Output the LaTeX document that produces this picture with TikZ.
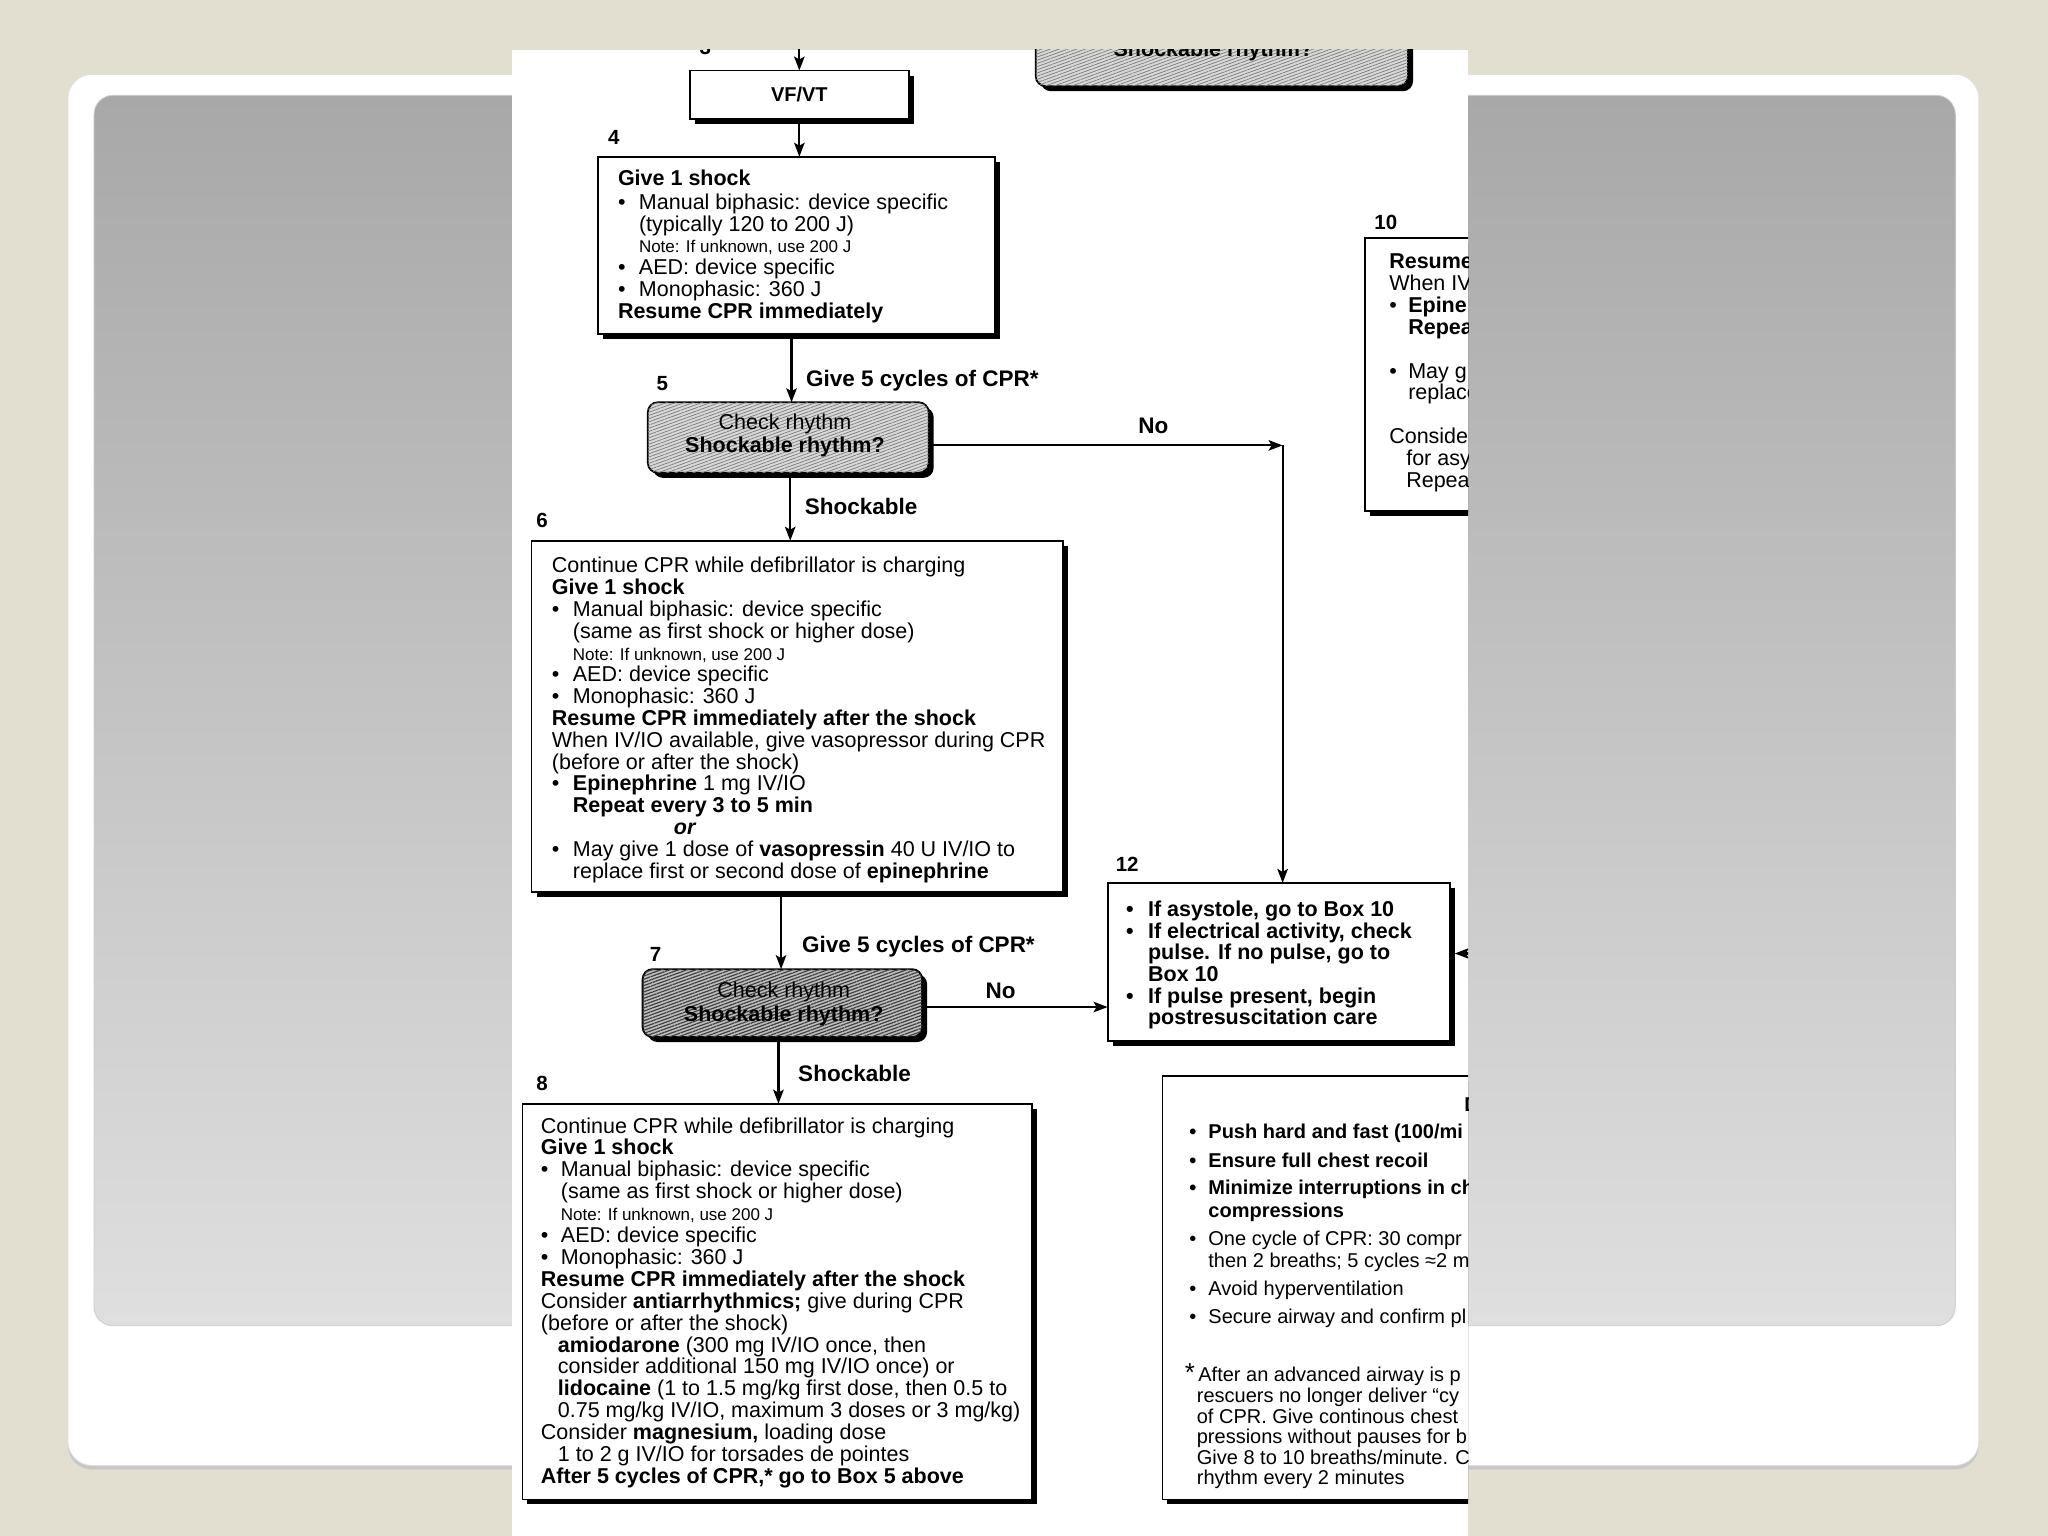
\documentclass[tikz,border=0pt]{standalone}
\usepackage{fontspec}
\setmainfont{Liberation Sans}
\usetikzlibrary{fit,shadows,arrows.meta,patterns.meta}
\definecolor{slidebg}{HTML}{E2DFD1}
\definecolor{graytop}{HTML}{A8A8A8}
\definecolor{graybot}{HTML}{DFDFDF}
\newcommand{\mybul}[1]{\makebox[#1][l]{•}}
\newcommand{\myind}[1]{\hspace*{#1}}
\newcommand{\notefont}{\fontsize{17}{21.8}\selectfont}
\tikzset{
  flowbox/.style={draw=black, line width=1.8pt, fill=white, inner sep=0pt, outer sep=0pt,
    drop shadow={shadow xshift=5pt, shadow yshift=-5pt, fill=black, opacity=1}},
  checkbox/.style={flowbox, rounded corners=10pt, fill=gray!30,
    postaction={pattern={Lines[angle=20,distance=3pt,line width=0.8pt]}, pattern color=black!50}},
  checkdark/.style={flowbox, rounded corners=10pt, fill=gray!50,
    postaction={pattern={Lines[angle=20,distance=3pt,line width=1.2pt]}, pattern color=black!75}},
  conn/.style={line width=2.2pt, -{Stealth[length=14pt,width=10.5pt,inset=3pt]}},
  body/.style={font=\fontsize{21.5}{21.8}\selectfont, align=left, anchor=north west, inner sep=0pt},
  lbl/.style={font=\fontsize{22.5}{24}\selectfont\bfseries, inner sep=0pt, anchor=base west},
  num/.style={font=\fontsize{20.5}{22}\selectfont\bfseries, inner sep=0pt, anchor=base},
  chk/.style={font=\fontsize{21.5}{23.4}\selectfont, align=center, inner sep=0pt, anchor=north},
}
\begin{document}
\begin{tikzpicture}[x=1.30612pt, y=-1.30612pt]
\useasboundingbox (0,0) rectangle (1568,1176);
\fill[slidebg] (0,0) rectangle (1568,1176);
\fill[black!22, rounded corners=24pt] (52,59.5) rectangle (1515,1125);
\filldraw[fill=white, draw=black!12, line width=0.8pt, rounded corners=24pt] (52,57) rectangle (1515,1122);
\shadedraw[top color=graytop, bottom color=graybot, draw=black!20, line width=0.8pt, rounded corners=19pt] (72,73) rectangle (1497,1015);
\fill[white] (392,38) rectangle (1124,1176);
\begin{scope}
\clip (392,38) rectangle (1124,1176);
% box 3 (cut off at top)
\node[checkbox, fit={(793,10)(1078,66)}] (b3) {};
\node[font=\fontsize{21.5}{22}\selectfont\bfseries, inner sep=0pt, anchor=base] (t3) at (929,43.5) {Shockable rhythm?};
\node[num] (n3) at (540,42) {3};
\coordinate (ctop) at (612,20);
% VF/VT
\node[flowbox, fit={(528,54)(696,91)}] (vfvt) {};
\node[font=\fontsize{20}{22}\selectfont\bfseries, inner sep=0pt] (tvf) at (vfvt.center) {VF/VT};
% box 4
\node[num] (n4) at (470,111) {4};
\node[flowbox, fit={(458,120)(762,256)}] (b4) {};
\node[body] (t4) at (473,130) {\textbf{Give 1 shock}\\[2pt]
\mybul{21pt}Manual biphasic: device specific\\
\myind{21pt}(typically 120 to 200 J)\\
\myind{21pt}{\notefont Note: If unknown, use 200 J}\\
\mybul{21pt}AED: device specific\\
\mybul{21pt}Monophasic: 360 J\\
\textbf{Resume CPR immediately}};
% box 5
\node[num] (n5) at (507,299) {5};
\node[checkbox, fit={(496,308)(711,362)}] (b5) {};
\node[chk] (t5) at (601,316.8) {Check rhythm\\\textbf{Shockable rhythm?}};
% box 6
\node[num] (n6) at (415,404) {6};
\node[flowbox, fit={(407,414)(814,683)}] (b6) {};
\node[body] (t6) at (422.4,426.6) {Continue CPR while defibrillator is charging\\
\textbf{Give 1 shock}\\
\mybul{21pt}Manual biphasic: device specific\\
\myind{21pt}(same as first shock or higher dose)\\
\myind{21pt}{\notefont Note: If unknown, use 200 J}\\
\mybul{21pt}AED: device specific\\
\mybul{21pt}Monophasic: 360 J\\
\textbf{Resume CPR immediately after the shock}\\
When IV/IO available, give vasopressor during CPR\\
(before or after the shock)\\
\mybul{21pt}\textbf{Epinephrine} 1 mg IV/IO\\
\myind{21pt}\textbf{Repeat every 3 to 5 min}\\
\myind{122pt}\textbf{\textit{or}}\\
\mybul{21pt}May give 1 dose of \textbf{vasopressin} 40 U IV/IO to\\
\myind{21pt}replace first or second dose of \textbf{epinephrine}};
% box 7
\node[num] (n7) at (502,736) {7};
\node[checkdark, fit={(492,742)(706,794)}] (b7) {};
\node[chk] (t7) at (600,752) {Check rhythm\\\textbf{Shockable rhythm?}};
% box 8
\node[num] (n8) at (415,835) {8};
\node[flowbox, fit={(400,845)(790,1148)}] (b8) {};
\node[body, font=\fontsize{21.5}{21.9}\selectfont] (t8) at (414,855.4) {Continue CPR while defibrillator is charging\\
\textbf{Give 1 shock}\\
\mybul{20pt}Manual biphasic: device specific\\
\myind{20pt}(same as first shock or higher dose)\\
\myind{20pt}{\notefont Note: If unknown, use 200 J}\\
\mybul{20pt}AED: device specific\\
\mybul{20pt}Monophasic: 360 J\\
\textbf{Resume CPR immediately after the shock}\\
Consider \textbf{antiarrhythmics;} give during CPR\\
(before or after the shock)\\
\myind{17pt}\textbf{amiodarone} (300 mg IV/IO once, then\\
\myind{17pt}consider additional 150 mg IV/IO once) or\\
\myind{17pt}\textbf{lidocaine} (1 to 1.5 mg/kg first dose, then 0.5 to\\
\myind{17pt}0.75 mg/kg IV/IO, maximum 3 doses or 3 mg/kg)\\
Consider \textbf{magnesium,} loading dose\\
\myind{17pt}1 to 2 g IV/IO for torsades de pointes\\
\textbf{After 5 cycles of CPR,* go to Box 5 above}};
% box 10 (cut off at right)
\node[num] (n10) at (1061,176) {10};
\node[flowbox, fit={(1045,182)(1140,391)}] (b10) {};
\node[body, font=\fontsize{21.5}{21.85}\selectfont] (t10) at (1063.5,194.3) {\textbf{Resume}\\
When IV\\
\mybul{19pt}\textbf{Epine}\\
\myind{19pt}\textbf{Repea}\\
~\\
\mybul{19pt}May g\\
\myind{19pt}replace\\
~\\
Consider\\
\myind{17pt}for asy\\
\myind{17pt}Repea};
% box 12
\node[num] (n12) at (863,667) {12};
\node[flowbox, fit={(848,676)(1110,797)}] (b12) {};
\node[body, font=\fontsize{21.5}{21.7}\selectfont\bfseries] (t12) at (862,689.5) {\mybul{22pt}If asystole, go to Box 10\\
\mybul{22pt}If electrical activity, check\\
\myind{22pt}pulse. If no pulse, go to\\
\myind{22pt}Box 10\\
\mybul{22pt}If pulse present, begin\\
\myind{22pt}postresuscitation care};
% CPR box (cut off at right)
\node[flowbox, fit={(890,824)(1140,1148)}] (bcpr) {};
\node[font=\fontsize{20}{22}\selectfont\bfseries, inner sep=0pt, anchor=base west] (tcprh) at (1121,851) {D};
\node[body, font=\fontsize{20}{21.5}\selectfont] (tcpr) at (910.5,860.5) {\textbf{\mybul{19pt}Push hard and fast (100/mi}\\[7pt]
\textbf{\mybul{19pt}Ensure full chest recoil}\\[6pt]
\textbf{\mybul{19pt}Minimize interruptions in ch}\\[1.5pt]
\textbf{\myind{19pt}compressions}\\[6.5pt]
\mybul{19pt}One cycle of CPR: 30 compr\\
\myind{19pt}then 2 breaths; 5 cycles ≈2 m\\[6.5pt]
\mybul{19pt}Avoid hyperventilation\\[7pt]
\mybul{19pt}Secure airway and confirm pl};
\node[body, font=\fontsize{20}{20.6}\selectfont] (tfoot) at (907,1046.8) {\makebox[13.5pt][l]{\smash{\fontsize{26}{20}\selectfont *}}After an advanced airway is p\\
\myind{12pt}rescuers no longer deliver “cy\\
\myind{12pt}of CPR. Give continous chest\\
\myind{12pt}pressions without pauses for b\\
\myind{12pt}Give 8 to 10 breaths/minute. C\\
\myind{12pt}rhythm every 2 minutes};
% connectors
\coordinate (x45) at (606,0);
\coordinate (x56) at (605,0);
\coordinate (x67) at (598,0);
\coordinate (x78) at (596,0);
\coordinate (cno) at (982,341);
\coordinate (y712) at (0,771);
\coordinate (c11) at (1135,730);
\draw[conn] (ctop) -- (ctop |- vfvt.north);
\draw[conn] (vfvt.south -| ctop) -- (ctop |- b4.north);
\draw[conn] (b4.south -| x45) -- (b5.north -| x45);
\draw[conn] (b5.south -| x56) -- (b6.north -| x56);
\draw[conn] (b6.south -| x67) -- (b7.north -| x67);
\draw[conn] (b7.south -| x78) -- (b8.north -| x78);
\draw[conn] (b5.east |- cno) -- (cno);
\draw[conn] (cno) -- (cno |- b12.north);
\draw[conn] (b7.east |- y712) -- (b12.west |- y712);
\draw[conn, shorten >=5pt] (c11) -- (b12.east |- c11);
% labels
\node[lbl] (l1) at (617,296) {Give 5 cycles of CPR*};
\node[lbl] (l2) at (616,394) {Shockable};
\node[lbl, anchor=base] (l3) at (883,332) {No};
\node[lbl] (l4) at (614,729) {Give 5 cycles of CPR*};
\node[lbl, anchor=base] (l5) at (766,764.5) {No};
\node[lbl] (l6) at (611,828) {Shockable};
\end{scope}
\end{tikzpicture}
\end{document}
